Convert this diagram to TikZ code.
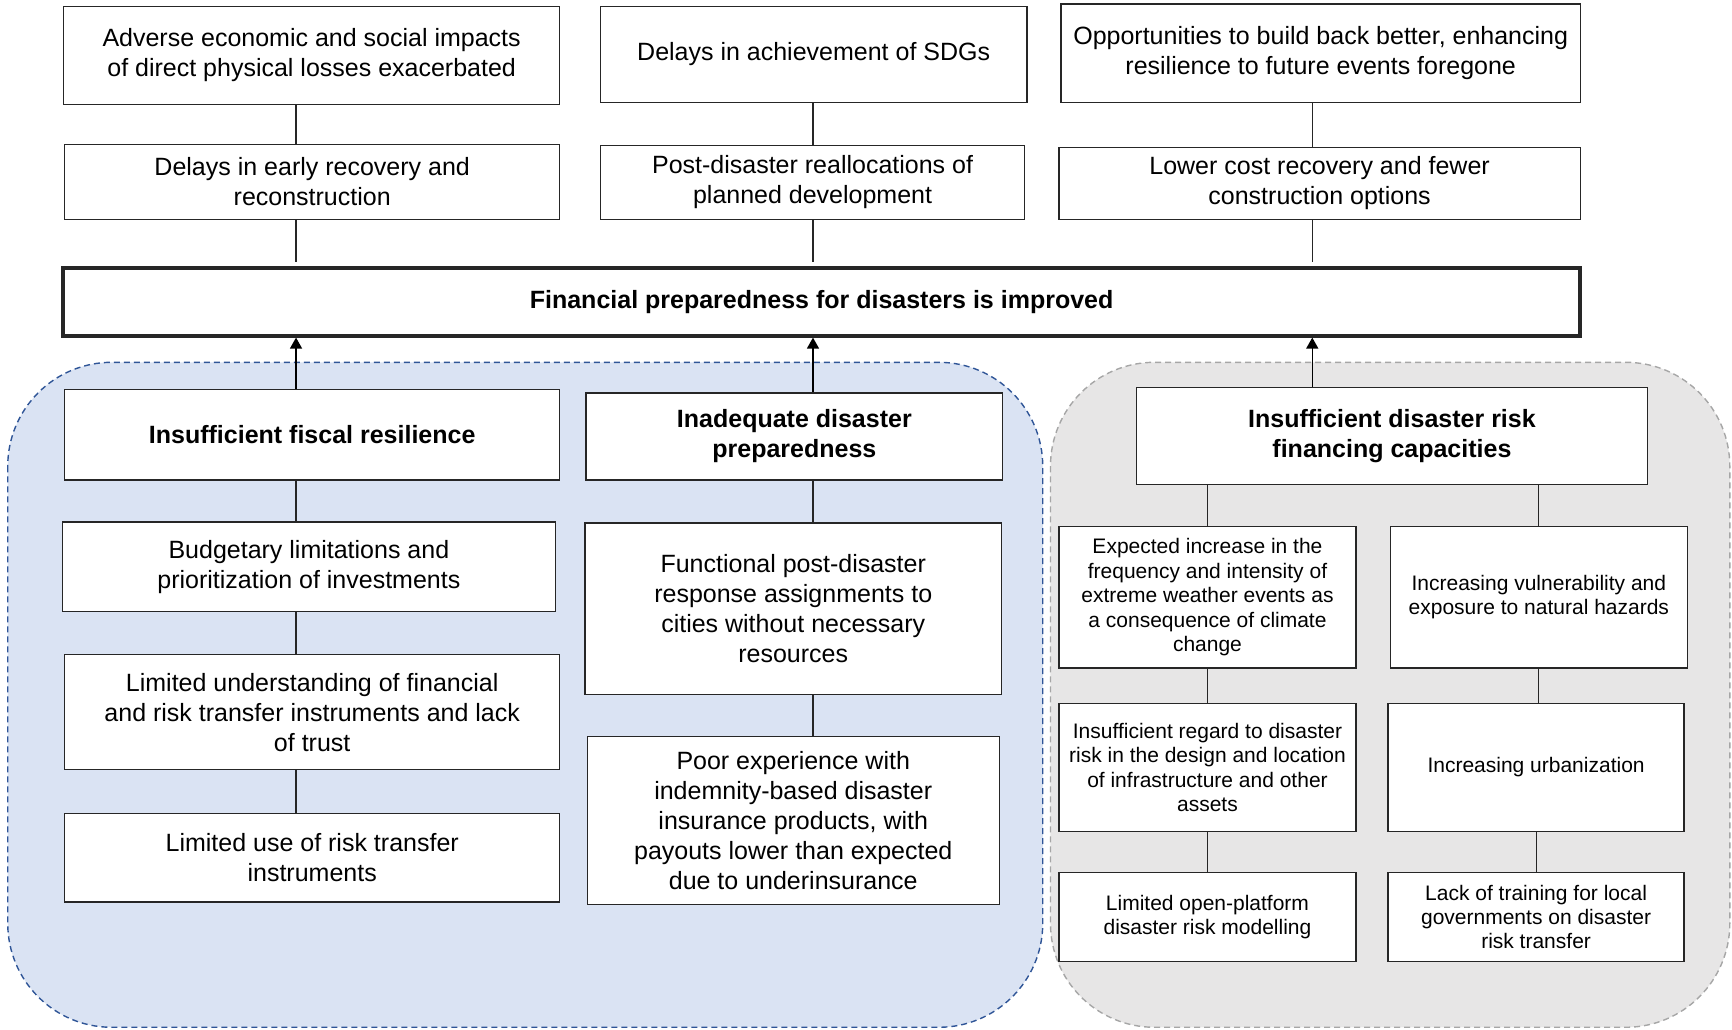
\documentclass[tikz,border=0pt]{standalone}
\usepackage{fontspec}
\setmainfont{Liberation Sans}
\usetikzlibrary{arrows.meta,positioning,calc}
\definecolor{RegionBlue}{RGB}{218,227,243}
\definecolor{RegionBlueLine}{RGB}{47,85,151}
\definecolor{RegionGray}{RGB}{231,230,230}
\definecolor{RegionGrayLine}{RGB}{166,166,166}
\newlength\pxu
\setlength\pxu{0.5523pt}
\newcommand\mainsize{\fontsize{12.5}{15}\selectfont}
\newcommand\smallsize{\fontsize{10.5}{12.2}\selectfont}
\tikzset{
  cbox/.style={draw=black!85,fill=white,line width=0.7pt,align=center,
               inner sep=1pt,anchor=north west,font=\mainsize},
  hbox/.style={cbox,font=\mainsize\bfseries},
  sbox/.style={cbox,font=\smallsize},
  goalbar/.style={cbox,line width=2pt,font=\mainsize\bfseries},
  sz/.style 2 args={minimum width=#1\pxu,minimum height=#2\pxu},
  link/.style={draw=black!85,line width=0.6pt},
  arr/.style={-{Triangle[length=5.5pt,width=6pt]},line width=0.7pt},
  region/.style={rounded corners=52pt,line width=0.7pt,dash pattern=on 3pt off 2pt},
}

\begin{document}
\begin{tikzpicture}[x=\pxu,y=-\pxu]
    \useasboundingbox (0,0) rectangle (1568,932);

    % Background regions
    \draw[region,fill=RegionBlue,draw=RegionBlueLine] (7,328) rectangle (944,930);
    \draw[region,fill=RegionGray,draw=RegionGrayLine] (951,328) rectangle (1566,930);

    % Column lines
    \coordinate (colL) at (268,0);
    \coordinate (colM) at (736,0);
    \coordinate (colR) at (1188,0);

    % Impacts
    \node[cbox,sz={449}{89}] (a1) at (57,5) {Adverse economic and social impacts\\of direct physical losses exacerbated};
    \node[cbox,sz={386}{87}] (a2) at (543,5) {Delays in achievement of SDGs};
    \node[cbox,sz={470}{89}] (a3) at (960,3) {Opportunities to build back better, enhancing\\resilience to future events foregone};
    \node[cbox,sz={448}{68}] (b1) at (58,130) {Delays in early recovery and\\reconstruction};
    \node[cbox,sz={384}{67}] (b2) at (543,131) {Post-disaster reallocations of\\planned development};
    \node[cbox,sz={472}{65}] (b3) at (958,133) {Lower cost recovery and fewer\\construction options};

    % Goal
    \node[goalbar,sz={1374}{61}] (goal) at (55,241) {Financial preparedness for disasters is improved};

    % Fiscal resilience
    \node[hbox,sz={448}{82}] (c1) at (58,352) {Insufficient fiscal resilience};
    \node[cbox,sz={446}{81}] (l1) at (56,472) {Budgetary limitations and\\prioritization of investments};
    \node[cbox,sz={448}{104}] (l2) at (58,592) {Limited understanding of financial\\and risk transfer instruments and lack\\of trust};
    \node[cbox,sz={448}{80}] (l3) at (58,736) {Limited use of risk transfer\\instruments};

    % Disaster preparedness
    \node[hbox,sz={377}{79}] (c2) at (530,355) {Inadequate disaster\\preparedness};
    \node[cbox,sz={377}{155}] (m1) at (529,473) {Functional post-disaster\\response assignments to\\cities without necessary\\resources};
    \node[cbox,sz={373}{152}] (m2) at (531,666) {Poor experience with\\indemnity-based disaster\\insurance products, with\\payouts lower than expected\\due to underinsurance};

    % Risk financing capacities
    \node[hbox,sz={463}{88}] (d) at (1028,350) {Insufficient disaster risk\\financing capacities};
    \node[sbox,sz={269}{128}] (r1) at (958,476) {Expected increase in the\\frequency and intensity of\\extreme weather events as\\a consequence of climate\\change};
    \node[sbox,sz={269}{128}] (r2) at (1258,476) {Increasing vulnerability and\\exposure to natural hazards};
    \node[sbox,sz={269}{116}] (r3) at (958,636) {Insufficient regard to disaster\\risk in the design and location\\of infrastructure and other\\assets};
    \node[sbox,sz={268}{116}] (r4) at (1256,636) {Increasing urbanization};
    \node[sbox,sz={269}{81}] (r5) at (958,789) {Limited open-platform\\disaster risk modelling};
    \node[sbox,sz={268}{81}] (r6) at (1256,789) {Lack of training for local\\governments on disaster\\risk transfer};

    % Links to the goal
    \foreach \top/\bot/\col in {a1/b1/colL, a2/b2/colM, a3/b3/colR}{
      \draw[link] (\top.south -| \col) -- (\bot.north -| \col);
      \draw[link,shorten >=2pt] (\bot.south -| \col) -- (goal.north -| \col);
    }
    \draw[arr] (c1.north -| colL) -- (goal.south -| colL);
    \draw[arr] (c2.north -| colM) -- (goal.south -| colM);
    \draw[arr] (d.north -| colR) -- (goal.south -| colR);

    % Causes
    \foreach \top/\bot in {c1/l1, l1/l2, l2/l3}
      \draw[link] (\top.south -| colL) -- (\bot.north -| colL);
    \draw[link] (c2.south -| colM) -- (m1.north -| colM);
    \draw[link] (m1.south -| colM) -- (m2.north -| colM);
    \draw[link] (d.south -| r1.north) -- (r1.north);
    \draw[link] (d.south -| r2.north) -- (r2.north);
    \foreach \top/\bot in {r1/r3, r3/r5, r2/r4, r4/r6}
      \draw[link] (\top.south) -- (\top.south |- \bot.north);

\end{tikzpicture}
\end{document}
